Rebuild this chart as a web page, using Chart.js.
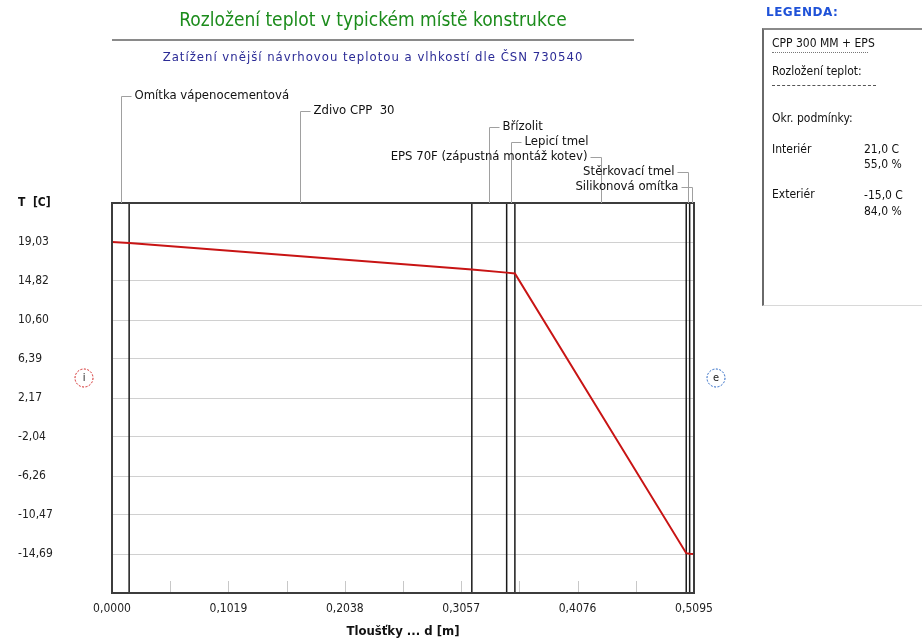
<!DOCTYPE html>
<html>
<head>
<meta charset="utf-8">
<script src="https://cdn.jsdelivr.net/npm/chart.js@4.4.1/dist/chart.umd.min.js"></script>
<style>
    body { margin: 0; background: #fff; font-family: 'Liberation Sans Narrow', 'DejaVu Sans Condensed', sans-serif; }
    #wrap { position: relative; width: 922px; height: 642px; overflow: hidden; }
    canvas { position: absolute; left: 0; top: 0; }
    .abs { position: absolute; white-space: nowrap; }
    #title { left: 112px; width: 522px; top: 8px; text-align: center; color: #1c8c1c; font-size: 19px; }
    #rule { left: 112px; width: 522px; top: 39px; height: 2px; background: #8a8a8a; }
    #subtitle { left: 112px; width: 522px; top: 49px; text-align: center; color: #2b2b96; font-size: 13px; letter-spacing: 1px; }
    #legTitle { left: 766px; top: 5px; color: #1f52d8; font-weight: bold; font-size: 12px; font-family: 'DejaVu Sans', sans-serif; letter-spacing: 0.5px; }
    #legBox { left: 762px; top: 28px; width: 170px; height: 275px; border-left: 2px solid #6a6a6a; border-top: 2px solid #8a8a8a; border-bottom: 1px solid #d8d8d8; background: #fff; font-size: 12px; color: #111; }
    #legBox div { position: absolute; white-space: nowrap; }
</style>
</head>
<body>
<div id="wrap">
    <canvas id="chart" width="922" height="642"></canvas>
    <div id="title" class="abs">Rozložení teplot v typickém místě konstrukce</div>
    <div id="rule" class="abs"></div>
    <div id="subtitle" class="abs">Zatížení vnější návrhovou teplotou a vlhkostí dle ČSN 730540</div>
    <div id="legTitle" class="abs">LEGENDA:</div>
    <div id="legBox" class="abs">
        <div style="left:8px;top:6px">CPP 300 MM + EPS</div>
        <div style="left:8px;top:22px;width:96px;border-top:1px dotted #777"></div>
        <div style="left:8px;top:34px">Rozložení teplot:</div>
        <div style="left:8px;top:55px;width:104px;border-top:1px dashed #555"></div>
        <div style="left:8px;top:81px">Okr. podmínky:</div>
        <div style="left:8px;top:112px">Interiér</div>
        <div style="left:100px;top:112px;line-height:15px">21,0 C<br>55,0 %</div>
        <div style="left:8px;top:157px">Exteriér</div>
        <div style="left:100px;top:157px;line-height:16px">-15,0 C<br>84,0 %</div>
    </div>
</div>
<script>
// skladba konstrukce (od interieru)
const layerNames = ['Omítka vápenocementová', 'Zdivo CPP  30', 'Břízolit', 'Lepicí tmel',
    'EPS 70F (zápustná montáž kotev)', 'Stěrkovací tmel', 'Silikonová omítka'];
const layerBounds = [0, 0.015, 0.315, 0.3455, 0.3527, 0.5027, 0.5057, 0.5095];

// rozlozeni teplot
const profileD = [0, 0.015, 0.315, 0.3455, 0.3527, 0.5027, 0.5057, 0.5095];
const profileT = [19.03, 18.93, 16.05, 15.72, 15.62, -14.60, -14.66, -14.69];

const yTicks = [19.03, 14.82, 10.60, 6.39, 2.17, -2.04, -6.26, -10.47, -14.69];
const xTicks = [0, 0.1019, 0.2038, 0.3057, 0.4076, 0.5095];

const FONT = "'Liberation Sans Narrow', 'DejaVu Sans Condensed', sans-serif";
const comma = (v, n) => v.toFixed(n).replace('.', ',');

// popisky vrstev: [y, strana]
const labelRows = [[96, 'r'], [111, 'r'], [127, 'r'], [142, 'r'], [157, 'l'], [172, 'l'], [187, 'l']];

const layersPlugin = {
    id: 'layers',
    beforeDatasetsDraw(chart) {
        const { ctx, chartArea: a, scales: { x } } = chart;
        ctx.save();
        // kratke znacky na ose x
        ctx.strokeStyle = '#c8c8c8';
        ctx.lineWidth = 1;
        for (let i = 1; i < 10; i++) {
            const px = Math.round(x.getPixelForValue(i * xTicks[5] / 10)) + 0.5;
            ctx.beginPath();
            ctx.moveTo(px, a.bottom - 12);
            ctx.lineTo(px, a.bottom);
            ctx.stroke();
        }
        // rozhrani vrstev
        ctx.strokeStyle = '#1a1a1a';
        ctx.lineWidth = 1.5;
        layerBounds.slice(1, -1).forEach(d => {
            const px = x.getPixelForValue(d);
            ctx.beginPath();
            ctx.moveTo(px, a.top);
            ctx.lineTo(px, a.bottom);
            ctx.stroke();
        });
        ctx.restore();
    },
    afterDraw(chart) {
        const { ctx, chartArea: a, scales: { x } } = chart;
        ctx.save();
        // ramecek grafu
        ctx.strokeStyle = '#3c3c3c';
        ctx.lineWidth = 2;
        ctx.strokeRect(a.left, a.top, a.right - a.left, a.bottom - a.top);

        // odkazy na vrstvy
        ctx.font = '13px ' + FONT;
        ctx.textBaseline = 'middle';
        ctx.fillStyle = '#111';
        layerNames.forEach((name, i) => {
            const mid = Math.round(x.getPixelForValue((layerBounds[i] + layerBounds[i + 1]) / 2)) + 0.5;
            const [y, side] = labelRows[i];
            ctx.strokeStyle = '#a0a0a0';
            ctx.lineWidth = 1;
            ctx.beginPath();
            ctx.moveTo(mid, a.top);
            ctx.lineTo(mid, y + 0.5);
            ctx.lineTo(side === 'r' ? mid + 10 : mid - 11, y + 0.5);
            ctx.stroke();
            ctx.textAlign = side === 'r' ? 'left' : 'right';
            ctx.fillText(name, side === 'r' ? mid + 13 : mid - 14, y);
        });

        // popis osy y
        ctx.font = 'bold 12px ' + FONT;
        ctx.textAlign = 'left';
        ctx.fillText('T  [C]', 18, a.top);

        // i / e
        const circ = (cx, cy, col, t) => {
            ctx.strokeStyle = col;
            ctx.lineWidth = 1;
            ctx.setLineDash([2, 1.5]);
            ctx.beginPath();
            ctx.arc(cx, cy, 9, 0, Math.PI * 2);
            ctx.stroke();
            ctx.setLineDash([]);
            ctx.fillStyle = '#222';
            ctx.font = '11px ' + FONT;
            ctx.textAlign = 'center';
            ctx.fillText(t, cx, cy);
        };
        circ(84, 378, '#d02020', 'i');
        circ(716, 378, '#2060c0', 'e');
        ctx.restore();
    }
};

new Chart(document.getElementById('chart'), {
    type: 'line',
    data: {
        datasets: [{
            data: profileD.map((d, i) => ({ x: d, y: profileT[i] })),
            borderColor: '#c81414',
            borderWidth: 2,
            pointRadius: 0,
            tension: 0,
            fill: false
        }]
    },
    options: {
        responsive: false,
        animation: false,
        devicePixelRatio: 1,
        layout: { padding: { left: 18, right: 228, top: 203, bottom: 0 } },
        plugins: {
            legend: { display: false },
            tooltip: { enabled: false }
        },
        scales: {
            x: {
                type: 'linear',
                min: 0,
                max: xTicks[xTicks.length - 1],
                afterBuildTicks: s => { s.ticks = xTicks.map(v => ({ value: v })); },
                afterFit: s => { s.height = 49; },
                grid: { display: false, drawTicks: false },
                border: { display: false },
                ticks: {
                    autoSkip: false,
                    maxRotation: 0,
                    padding: 9,
                    color: '#222',
                    font: { family: FONT, size: 12 },
                    callback: v => comma(v, 4)
                },
                title: {
                    display: true,
                    text: 'Tloušťky ... d [m]',
                    color: '#111',
                    font: { family: FONT, size: 13, weight: 'bold' },
                    padding: { top: 0, bottom: 3 }
                }
            },
            y: {
                min: yTicks[yTicks.length - 1] - 4.215,
                max: yTicks[0] + 4.215,
                afterBuildTicks: s => { s.ticks = yTicks.map(v => ({ value: v })); },
                afterFit: s => { s.width = 94; },
                grid: { color: '#d0d0d0', drawTicks: false },
                border: { display: false },
                ticks: {
                    crossAlign: 'far',
                    color: '#222',
                    font: { family: FONT, size: 12 },
                    callback: v => comma(v, 2)
                }
            }
        }
    },
    plugins: [layersPlugin]
});
</script>
</body>
</html>
